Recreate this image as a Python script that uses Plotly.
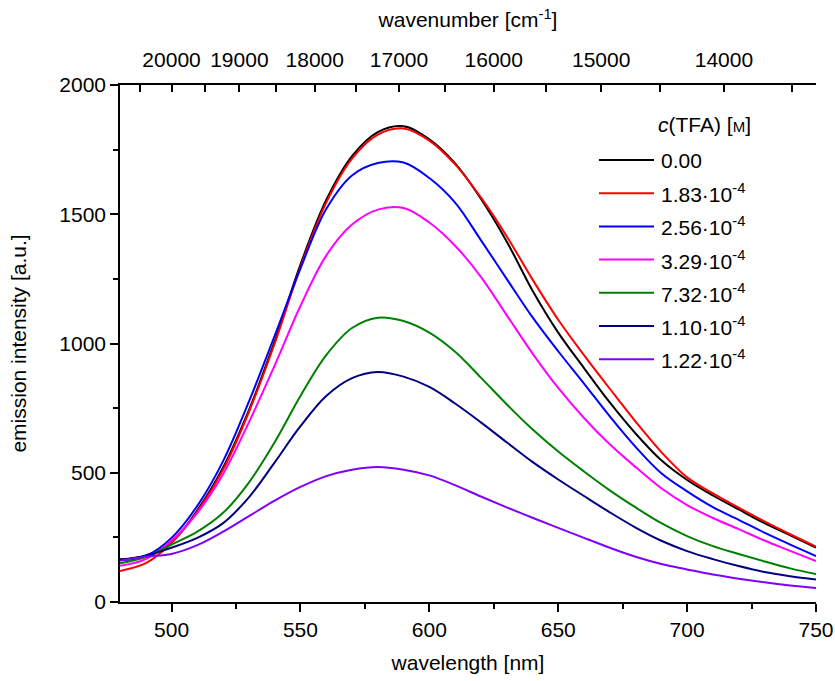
import plotly.graph_objects as go

# ---------------- data ----------------
wavelength = [480, 490, 500, 510, 520, 530, 540, 550, 560, 570, 580, 590, 600, 610,
              620, 630, 640, 650, 660, 670, 680, 690, 700, 710, 720, 730, 740, 750]

i_000 = [165, 180, 232, 355, 520, 742, 1008, 1305, 1555, 1725, 1818, 1840, 1790, 1697,
         1560, 1395, 1205, 1042, 905, 772, 652, 548, 472, 412, 358, 305, 258, 210]
i_183 = [120, 150, 228, 350, 512, 735, 1000, 1295, 1545, 1715, 1808, 1832, 1785, 1693,
         1565, 1415, 1248, 1092, 955, 825, 698, 580, 482, 420, 365, 312, 262, 214]
i_256 = [162, 178, 248, 372, 545, 775, 1030, 1290, 1520, 1650, 1698, 1700, 1640, 1545,
         1400, 1250, 1102, 970, 845, 718, 600, 498, 428, 367, 318, 268, 222, 178]
i_329 = [140, 166, 238, 345, 495, 695, 915, 1145, 1340, 1460, 1518, 1524, 1468, 1378,
         1258, 1110, 962, 828, 712, 610, 522, 440, 375, 325, 282, 238, 198, 158]
i_732 = [150, 174, 222, 272, 345, 462, 618, 797, 955, 1060, 1100, 1087, 1042, 968,
         868, 765, 668, 582, 505, 432, 366, 305, 255, 216, 186, 157, 130, 108]
i_110 = [163, 178, 210, 248, 305, 405, 540, 680, 797, 866, 890, 872, 832, 768,
         695, 618, 542, 474, 410, 347, 288, 237, 197, 166, 139, 116, 100, 87]
i_122 = [160, 175, 186, 220, 272, 332, 392, 445, 487, 512, 522, 512, 490, 452,
         408, 366, 326, 287, 248, 210, 175, 147, 126, 106, 90, 76, 64, 54]

series_values = [i_000, i_183, i_256, i_329, i_732, i_110, i_122]
series_labels = ["0.00", "1.83·10<sup>-4</sup>", "2.56·10<sup>-4</sup>", "3.29·10<sup>-4</sup>",
                 "7.32·10<sup>-4</sup>", "1.10·10<sup>-4</sup>", "1.22·10<sup>-4</sup>"]
series_colors = ["#000000", "#ff0000", "#0000ff", "#ff00ff", "#008000", "#000080", "#8000ff"]

bottom_ticks = [500, 550, 600, 650, 700, 750]
y_ticks = [0, 500, 1000, 1500, 2000]
wavenumber_major = [20000, 19000, 18000, 17000, 16000, 15000, 14000]
wavenumber_minor = [20500, 19500, 18500, 17500, 16500, 15500, 14500, 13500]

FONT = "Liberation Sans, Arial, sans-serif"
FS = 21

fig = go.Figure()
for vals, name, col in zip(series_values, series_labels, series_colors):
    fig.add_trace(go.Scatter(x=wavelength, y=vals, mode="lines", name=name,
                             line=dict(color=col, width=2, shape="spline", smoothing=1.0),
                             showlegend=False))

# helper traces so the top axes exist
fig.add_trace(go.Scatter(x=[wavelength[0], wavelength[-1]], y=[None, None], xaxis="x2",
                         showlegend=False, hoverinfo="skip", mode="lines"))
fig.add_trace(go.Scatter(x=[wavelength[0], wavelength[-1]], y=[None, None], xaxis="x3",
                         showlegend=False, hoverinfo="skip", mode="lines"))

xr = [480, 750]
fig.update_layout(
    width=835, height=681,
    margin=dict(l=120, r=19, t=85, b=79),
    paper_bgcolor="white", plot_bgcolor="white",
    font=dict(family=FONT, size=FS, color="black"),
    xaxis=dict(range=xr, tickvals=bottom_ticks, ticks="outside", ticklen=8, tickwidth=1.5,
               tickcolor="black", showline=True, linecolor="black", linewidth=1.5,
               showgrid=False, zeroline=False,
               minor=dict(dtick=25, tick0=475, ticks="outside", ticklen=5, tickwidth=1.5,
                          tickcolor="black", showgrid=False),
               title=dict(text="wavelength [nm]", standoff=15, font=dict(size=FS)),
               tickfont=dict(size=FS), automargin=False),
    xaxis2=dict(range=xr, overlaying="x", side="top", anchor="y",
                tickvals=[1e7 / w for w in wavenumber_major],
                ticktext=[str(w) for w in wavenumber_major],
                ticks="inside", ticklen=7, tickwidth=1.5, tickcolor="black",
                showline=True, linecolor="black", linewidth=1.5, showgrid=False,
                zeroline=False, ticklabelstandoff=8,
                title=dict(text="wavenumber [cm<sup>-1</sup>]", standoff=14, font=dict(size=FS)),
                tickfont=dict(size=FS), automargin=False),
    xaxis3=dict(range=xr, overlaying="x", side="top", anchor="y",
                tickvals=[1e7 / w for w in wavenumber_minor],
                ticks="inside", ticklen=7, tickwidth=1.5, tickcolor="black",
                showticklabels=False, showline=False, showgrid=False, zeroline=False,
                automargin=False),
    yaxis=dict(range=[0, 2000], tickvals=y_ticks, ticks="outside", ticklen=8, tickwidth=1.5,
               tickcolor="black", showline=True, linecolor="black", linewidth=1.5,
               showgrid=False, zeroline=False,
               minor=dict(dtick=250, ticks="outside", ticklen=5, tickwidth=1.5,
                          tickcolor="black", showgrid=False),
               title=dict(text="emission intensity [a.u.]", standoff=27, font=dict(size=FS)),
               tickfont=dict(size=FS), automargin=False),
)

# manual legend (paper coordinates)
def px_x(px):
    return (px - 120) / 696.0

def px_y(py):
    return (602 - py) / 517.0

shapes = []
annotations = []
annotations.append(dict(xref="paper", yref="paper", x=px_x(656), y=px_y(124),
                        xanchor="left", yanchor="middle", showarrow=False,
                        text="<i>c</i>(TFA) [<span style='font-size:15px'>M</span>]",
                        font=dict(size=FS, family=FONT, color="black")))
for k, (name, col) in enumerate(zip(series_labels, series_colors)):
    yc = 160 + k * 33.2
    shapes.append(dict(type="line", xref="paper", yref="paper",
                       x0=px_x(599), x1=px_x(654), y0=px_y(yc), y1=px_y(yc),
                       line=dict(color=col, width=2)))
    annotations.append(dict(xref="paper", yref="paper", x=px_x(659), y=px_y(yc),
                            xanchor="left", yanchor="middle", showarrow=False,
                            text=name, font=dict(size=FS, family=FONT, color="black")))
fig.update_layout(shapes=shapes, annotations=annotations)

fig.write_html("out.html", config={"displayModeBar": False},
               post_script="document.body.style.margin='0';document.body.style.overflow='hidden';")
